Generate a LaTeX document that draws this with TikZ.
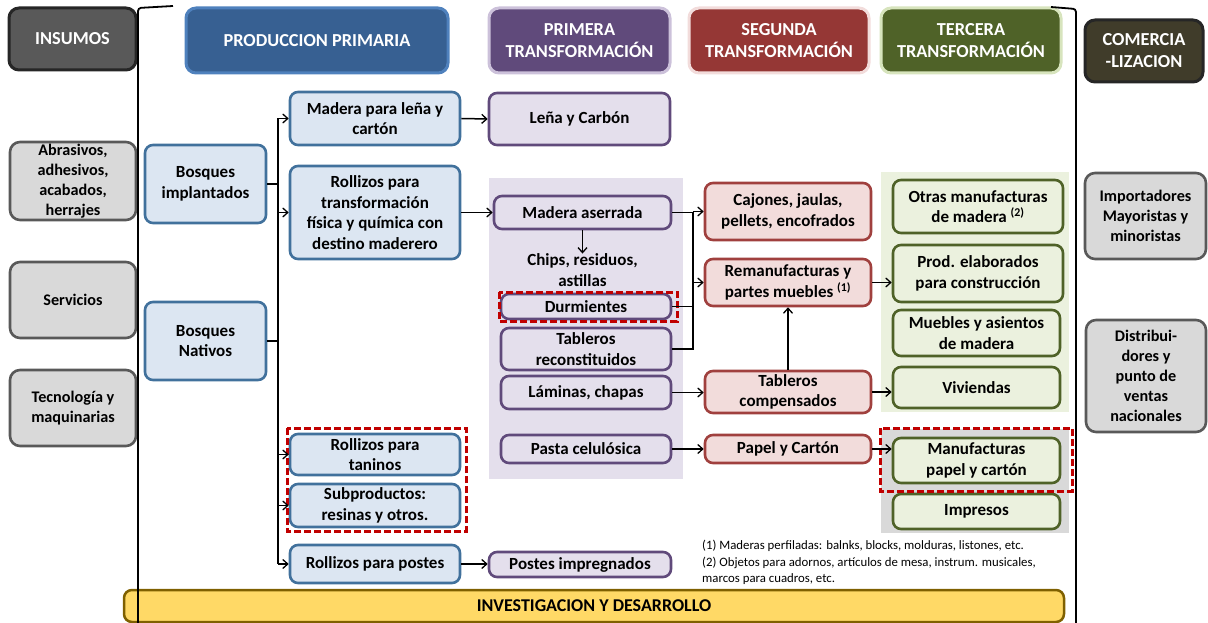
\documentclass[tikz,border=0pt]{standalone}
\usepackage{fontspec}
\setmainfont{Carlito}
\usetikzlibrary{arrows.meta}
\definecolor{bluefill}{HTML}{DCE6F2}
\definecolor{blueline}{HTML}{41719C}
\definecolor{purfill}{HTML}{E4DFEC}
\definecolor{purline}{HTML}{604A7B}
\definecolor{redfill}{HTML}{F2DCDB}
\definecolor{redline}{HTML}{A0403E}
\definecolor{grnfill}{HTML}{EBF1DE}
\definecolor{grnline}{HTML}{4F6228}
\definecolor{grayfill}{HTML}{D9D9D9}
\definecolor{grayline}{HTML}{595959}
\definecolor{dashred}{HTML}{C00000}
\definecolor{yelfill}{HTML}{FFD966}
\definecolor{yelline}{HTML}{7F6000}
\definecolor{insfill}{HTML}{595959}
\definecolor{ppfill}{HTML}{376092}
\definecolor{ppline}{HTML}{4F81BD}
\definecolor{ptfill}{HTML}{604A7B}
\definecolor{ptline}{HTML}{CCC1DA}
\definecolor{stfill}{HTML}{953735}
\definecolor{stline}{HTML}{F2DCDB}
\definecolor{ttfill}{HTML}{4F6228}
\definecolor{ttline}{HTML}{D7E4BD}
\definecolor{comfill}{HTML}{403C2A}
\definecolor{hdrline}{HTML}{262626}
\definecolor{graybg}{HTML}{D9D9D9}
\newcommand{\bx}[7]{\node[#2, minimum width={(#5)-(#3)}, minimum height={(#6)-(#4)}] (#1) at ({((#3)+(#5))/2},{((#4)+(#6))/2}) {#7};}
\tikzset{
  base/.style={rectangle, rounded corners=8, inner sep=0pt, align=center, line width=2.6pt,
    font=\bfseries\fontsize{17}{20.5}\selectfont},
  hdr/.style={base, rounded corners=10, line width=3pt, text=white,
    font=\bfseries\fontsize{18.3}{22}\selectfont},
  bluebox/.style={base, fill=bluefill, draw=blueline},
  purbox/.style={base, fill=purfill, draw=purline},
  redbox/.style={base, fill=redfill, draw=redline},
  grnbox/.style={base, fill=grnfill, draw=grnline},
  graybox/.style={base, rounded corners=10, fill=grayfill, draw=grayline,
    font=\bfseries\fontsize{16.2}{20}\selectfont},
  yelbox/.style={base, fill=yelfill, draw=yelline, line width=2.5pt,
    font=\bfseries\fontsize{18}{20}\selectfont},
  conn/.style={line width=1.5pt, black},
  arr/.style={conn, -{Straight Barb[length=5pt,width=9pt,line width=1.3pt]}},
  dashbox/.style={draw=dashred, line width=3pt, dash pattern=on 7pt off 3pt},
  bracket/.style={line width=1.8pt, black, rounded corners=3},
}
\begin{document}
\begin{tikzpicture}[x=1pt,y=-1pt]
\useasboundingbox (0,0) rectangle (1208,623);
% background areas
\fill[purfill] (489,178) rectangle (683,479);
\fill[grnfill] (881,172) rectangle (1069,412);
\fill[graybg] (881,429) rectangle (1069,533);
% headers
\bx{hins}{hdr, fill=insfill, draw=hdrline}{9}{8}{136}{70}{INSUMOS}
\bx{hpp}{hdr, fill=ppfill, draw=ppline}{186}{8}{448}{73}{PRODUCCION PRIMARIA}
\bx{hpt}{hdr, fill=ptfill, draw=ptline}{489}{8}{670}{73}{PRIMERA\\TRANSFORMACIÓN}
\bx{hst}{hdr, fill=stfill, draw=stline}{689}{8}{869}{73}{SEGUNDA\\TRANSFORMACIÓN}
\bx{htt}{hdr, fill=ttfill, draw=ttline}{881}{8}{1061}{73}{TERCERA\\TRANSFORMACIÓN}
\bx{hcom}{hdr, fill=comfill, draw=hdrline}{1085}{20}{1203}{82}{COMERCIA\\-LIZACION}
% insumos
\bx{abr}{graybox}{10}{142}{136}{220}{Abrasivos,\\adhesivos,\\acabados,\\herrajes}
\bx{serv}{graybox}{10}{262}{136}{338}{Servicios}
\bx{tec}{graybox}{10}{370}{136}{446}{Tecnología y\\maquinarias}
% comercializacion
\bx{imp}{graybox}{1085}{173}{1206}{259}{Importadores\\Mayoristas y\\minoristas}
\bx{dist}{graybox}{1086}{320}{1206}{432}{Distribui-\\dores y\\punto de\\ventas\\nacionales}
% produccion primaria
\bx{bimp}{bluebox}{145}{145}{266}{223}{Bosques\\implantados}
\bx{bnat}{bluebox}{145}{302}{266}{380}{Bosques\\Nativos}
\bx{mlena}{bluebox}{290}{92}{460}{145}{Madera para leña y\\cartón}
\bx{rtrans}{bluebox}{290}{166}{460}{259}{Rollizos para\\transformación\\física y química con\\destino maderero}
\bx{rtan}{bluebox}{290}{434}{460}{475}{Rollizos para\\taninos}
\bx{subp}{bluebox}{290}{484}{460}{527}{Subproductos:\\resinas y otros.}
\bx{rpos}{bluebox}{290}{545}{460}{583}{Rollizos para postes}
% primera transformacion
\bx{lcarb}{purbox}{489}{93}{670}{145}{Leña y Carbón}
\bx{maserr}{purbox}{494}{196}{671}{229}{Madera aserrada}
\node[inner sep=0pt, align=center, font=\bfseries\fontsize{17}{20.5}\selectfont] (chips) at (582.5,270) {Chips, residuos,\\astillas};
\bx{durm}{purbox}{501}{294}{671}{319}{Durmientes}
\bx{trec}{purbox}{501}{328}{671}{370}{Tableros\\reconstituidos}
\bx{lam}{purbox}{501}{376}{671}{409}{Láminas, chapas}
\bx{pasta}{purbox}{501}{435}{671}{463}{Pasta celulósica}
\bx{pimp}{purbox}{489}{552}{671}{577}{Postes impregnados}
% segunda transformacion
\bx{caj}{redbox}{705}{183}{871}{240}{Cajones, jaulas,\\pellets, encofrados}
\bx{reman}{redbox}{705}{259}{871}{306}{Remanufacturas y\\partes muebles \textsuperscript{(1)}}
\bx{tcomp}{redbox}{705}{371}{871}{413}{Tableros\\compensados}
\bx{papel}{redbox}{705}{435}{871}{463}{Papel y Cartón}
% tercera transformacion
\bx{otras}{grnbox}{893}{180}{1063}{233}{Otras manufacturas\\de madera \textsuperscript{(2)}}
\bx{prod}{grnbox}{893}{245}{1063}{302}{Prod. elaborados\\para construcción}
\bx{mueb}{grnbox}{893}{310}{1060}{356}{Muebles y asientos\\de madera}
\bx{viv}{grnbox}{893}{367}{1060}{408}{Viviendas}
\bx{manuf}{grnbox}{893}{438}{1060}{483}{Manufacturas\\papel y cartón}
\bx{impr}{grnbox}{893}{494}{1060}{529}{Impresos}
% dashed highlights
\draw[dashbox] (499,292) rectangle (677,321);
\draw[dashbox] (287,428) rectangle (466,531);
\draw[dashbox] (880,428) rectangle (1072,491);
% footnotes
\node[anchor=north west, inner sep=0pt, align=left, font=\fontsize{12.8}{16.5}\selectfont] (notes) at (702,540)
 {(1) Maderas perfiladas: balnks, blocks, molduras, listones, etc.\\
  (2) Objetos para adornos, artículos de mesa, instrum. musicales,\\
  marcos para cuadros, etc.};
% investigacion
\bx{inv}{yelbox}{124}{590}{1064}{622}{INVESTIGACION Y DESARROLLO}
% brackets
\draw[bracket] (173,6) -- (138,8) -- (138,626);
\draw[bracket] (1051,7) -- (1076,9) -- (1076,626);
% trunk of primary production
\coordinate (trtop) at (278,118.5);
\coordinate (trbot) at (278,564);
\draw[conn] (trtop) -- (trbot);
\draw[conn] (bimp.east) -- (bimp.east -| trtop);
\draw[conn] (bnat.east) -- (bnat.east -| trtop);
\draw[arr] (trtop) -- (mlena.west);
\draw[arr] (rtrans.west -| trtop) -- (rtrans.west);
\draw[arr] (rtan.west -| trtop) -- (rtan.west);
\draw[arr] (subp.west -| trtop) -- (subp.west);
\draw[arr] (trbot) -- (rpos.west);
% primary -> first
\draw[arr] (mlena.east) -- (lcarb.west);
\draw[arr] (rtrans.east |- maserr.west) -- (maserr.west);
\draw[arr] (rpos.east) -- (pimp.west |- rpos.east);
\draw[arr] (maserr.south) -- (chips.north);
% first -> second
\coordinate (bus) at (693,0);
\draw[conn] (maserr.east) -| (bus |- trec.east) -- (trec.east);
\draw[conn] (durm.east) -- (durm.east -| bus);
\draw[arr] (bus |- caj.west) -- (caj.west);
\draw[arr] (bus |- reman.west) -- (reman.west);
\draw[arr] (lam.east) -- (tcomp.west |- lam.east);
\draw[arr] (pasta.east) -- (papel.west);
\draw[arr] (tcomp.north) -- (reman.south);
% second -> third
\draw[arr] (reman.east) -- (reman.east -| prod.west);
\draw[arr] (tcomp.east) -- (tcomp.east -| viv.west);
\draw[arr] (papel.east) -- (papel.east -| manuf.west);
\end{tikzpicture}
\end{document}
